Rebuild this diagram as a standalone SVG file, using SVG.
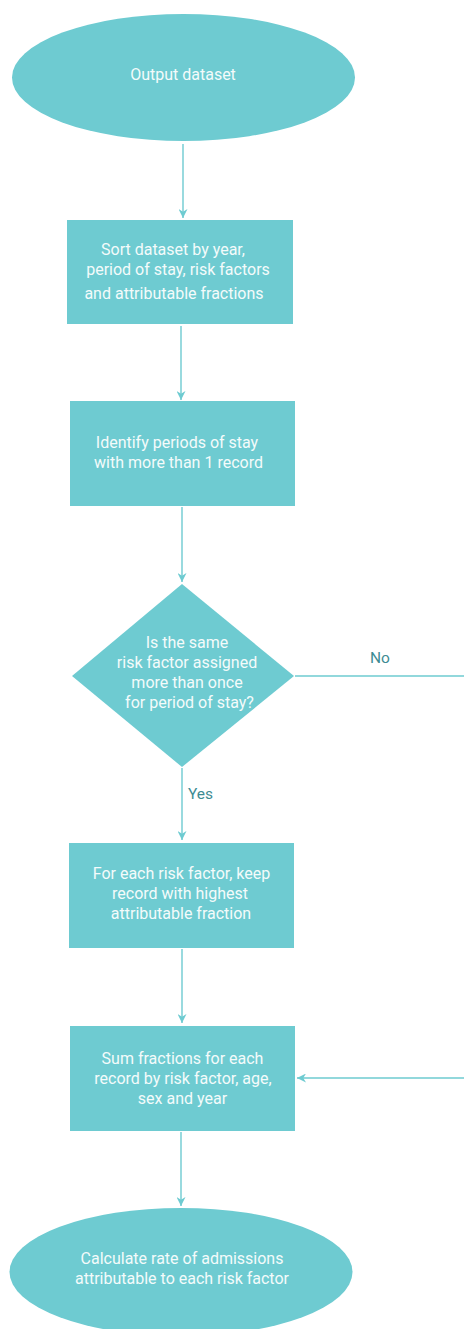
<svg xmlns="http://www.w3.org/2000/svg" width="464" height="1329" viewBox="0 0 464 1329">
<style>
.n{fill:#6ECBD1}
.t{font-family:Roboto,"Liberation Sans",sans-serif;font-size:16px;fill:#F4FBFB;text-anchor:middle}
.l{font-family:Roboto,"Liberation Sans",sans-serif;font-size:15.5px;fill:#3E8C93;text-anchor:middle}
.c{stroke:#6ECBD1;stroke-width:1.4;fill:none}
</style>
<defs>
<marker id="a" viewBox="0 0 10 10" refX="10" refY="5" markerWidth="9" markerHeight="9" markerUnits="userSpaceOnUse" orient="auto">
<path d="M0,0 L10,5 L0,10 L3,5 z" fill="#6ECBD1"/>
</marker>
</defs>
<g id="connectors">
<line class="c" x1="183" y1="144" x2="183" y2="218" marker-end="url(#a)"/>
<line class="c" x1="181" y1="326" x2="181" y2="400" marker-end="url(#a)"/>
<line class="c" x1="182" y1="507" x2="182" y2="582" marker-end="url(#a)"/>
<line class="c" x1="295" y1="676" x2="464" y2="676"/>
<line class="c" x1="182" y1="768" x2="182" y2="840" marker-end="url(#a)"/>
<line class="c" x1="182" y1="949" x2="182" y2="1023" marker-end="url(#a)"/>
<line class="c" x1="464" y1="1078" x2="297" y2="1078" marker-end="url(#a)"/>
<line class="c" x1="181" y1="1132" x2="181" y2="1206" marker-end="url(#a)"/>
<text class="l" x="380" y="663">No</text>
<text class="l" x="200.5" y="799">Yes</text>
</g>
<g id="start">
<ellipse class="n" cx="183.5" cy="77.5" rx="171.5" ry="63.5"/>
<text class="t" x="183" y="80">Output dataset</text>
</g>
<g id="sort">
<rect class="n" x="67" y="220" width="226" height="104"/>
<text class="t" x="173" y="255">Sort dataset by year,</text>
<text class="t" x="178" y="275">period of stay, risk factors</text>
<text class="t" x="174" y="299">and attributable fractions</text>
</g>
<g id="identify">
<rect class="n" x="70" y="401" width="225" height="105"/>
<text class="t" x="177" y="448">Identify periods of stay</text>
<text class="t" x="178.5" y="468">with more than 1 record</text>
</g>
<g id="decision">
<polygon class="n" points="182,584 294,676 182,767 72,676"/>
<text class="t" x="187" y="648">Is the same</text>
<text class="t" x="187" y="668">risk factor assigned</text>
<text class="t" x="187" y="688">more than once</text>
<text class="t" x="189.5" y="708">for period of stay?</text>
</g>
<g id="keep">
<rect class="n" x="69" y="843" width="225" height="105"/>
<text class="t" x="181.5" y="879">For each risk factor, keep</text>
<text class="t" x="180" y="899">record with highest</text>
<text class="t" x="181" y="919">attributable fraction</text>
</g>
<g id="sum">
<rect class="n" x="70" y="1026" width="225" height="105"/>
<text class="t" x="182.5" y="1064">Sum fractions for each</text>
<text class="t" x="183" y="1084">record by risk factor, age,</text>
<text class="t" x="182.5" y="1104">sex and year</text>
</g>
<g id="end">
<ellipse class="n" cx="181" cy="1272" rx="171.5" ry="64"/>
<text class="t" x="182" y="1264">Calculate rate of admissions</text>
<text class="t" x="182" y="1284">attributable to each risk factor</text>
</g>
</svg>
